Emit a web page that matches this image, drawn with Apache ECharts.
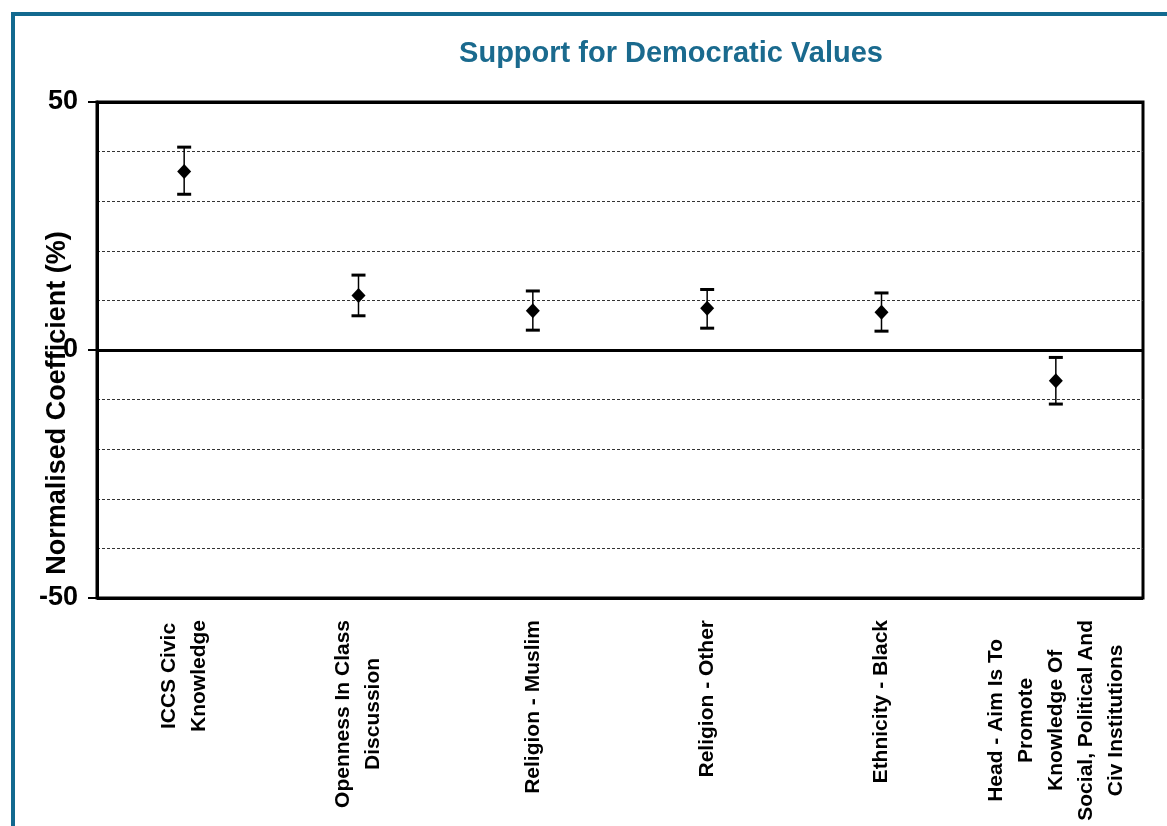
<!DOCTYPE html>
<html>
<head>
<meta charset="utf-8">
<script src="https://cdn.jsdelivr.net/npm/echarts@6/dist/echarts.min.js"></script>
<style>
html,body{margin:0;padding:0;background:#fff;}
#chart{width:1167px;height:826px;}
</style>
</head>
<body>
<div id="chart"></div>
<script>
// ---- data ----
const categories = [
  'ICCS Civic\nKnowledge',
  'Openness In Class\nDiscussion',
  'Religion - Muslim',
  'Religion - Other',
  'Ethnicity - Black',
  'Head - Aim Is To\nPromote\nKnowledge Of\nSocial, Political And\nCiv Institutions'
];
const coefficients = [36.0, 11.0, 7.9, 8.4, 7.6, -6.2];
const upperBounds  = [40.9, 15.1, 11.9, 12.2, 11.5, -1.5];
const lowerBounds  = [31.4, 6.9, 4.0, 4.4, 3.8, -10.9];
const yTicks = [-50, 0, 50];

const FONT = '"Liberation Sans", Arial, sans-serif';

const chart = echarts.init(document.getElementById('chart'));
const errData = categories.map((c, i) => [i, lowerBounds[i], upperBounds[i]]);

chart.setOption({
  backgroundColor: '#fff',
  animation: false,
  title: {
    text: 'Support for Democratic Values',
    left: 666,
    top: 34,
    textAlign: 'center',
    textStyle: { fontFamily: FONT, fontSize: 29, fontWeight: 'bold', color: '#1a6a8e' }
  },
  graphic: [{
    type: 'rect',
    shape: { x: 13, y: 14, width: 1300, height: 1000 },
    style: { fill: 'none', stroke: '#12698f', lineWidth: 4 },
    silent: true
  }],
  grid: { left: 97, right: 24, top: 102, bottom: 228, show: true, borderColor: '#000', borderWidth: 3 },
  xAxis: {
    type: 'category',
    data: categories,
    boundaryGap: true,
    axisLine: { show: false },
    axisTick: { show: false },
    splitLine: { show: false },
    axisLabel: {
      rotate: 90,
      interval: 0,
      margin: 22,
      formatter: function (v) { return v.split('\n').map(s => '{c|' + s + '}').join('\n'); },
      rich: {
        c: { align: 'center', fontFamily: FONT, fontSize: 21, fontWeight: 'bold', color: '#000', lineHeight: 30 }
      }
    }
  },
  yAxis: {
    type: 'value',
    min: yTicks[0],
    max: yTicks[yTicks.length - 1],
    interval: 50,
    name: 'Normalised Coefficient (%)',
    nameLocation: 'middle',
    nameGap: 26,
    nameMoveOverlap: false,
    nameTextStyle: { fontFamily: FONT, fontSize: 27, fontWeight: 'bold', color: '#000', padding: [0, 106, 0, 0] },
    axisLine: { show: true, lineStyle: { color: '#000', width: 3 } },
    axisTick: { show: true, inside: false, length: 9, lineStyle: { color: '#000', width: 2 } },
    axisLabel: { fontFamily: FONT, fontSize: 27, fontWeight: 'bold', color: '#000', margin: 19 },
    splitLine: { show: true, lineStyle: { color: '#000', width: 3 } },
    minorTick: { show: false, splitNumber: 5 },
    minorSplitLine: { show: true, lineStyle: { color: '#333', width: 1, type: [3, 2] } }
  },
  series: [
    {
      type: 'custom',
      data: errData,
      z: 3,
      renderItem: function (params, api) {
        const i = api.value(0);
        const lo = api.coord([i, api.value(1)]);
        const hi = api.coord([i, api.value(2)]);
        const hw = 7;
        return {
          type: 'group',
          children: [
            { type: 'line', shape: { x1: lo[0], y1: lo[1], x2: hi[0], y2: hi[1] }, style: { stroke: '#000', lineWidth: 1.5 } },
            { type: 'line', shape: { x1: hi[0] - hw, y1: hi[1], x2: hi[0] + hw, y2: hi[1] }, style: { stroke: '#000', lineWidth: 3 } },
            { type: 'line', shape: { x1: lo[0] - hw, y1: lo[1], x2: lo[0] + hw, y2: lo[1] }, style: { stroke: '#000', lineWidth: 3 } }
          ]
        };
      }
    },
    {
      type: 'scatter',
      data: coefficients,
      symbol: 'diamond',
      symbolSize: [14, 15],
      itemStyle: { color: '#000', opacity: 1 },
      z: 4
    }
  ]
});
</script>
</body>
</html>
